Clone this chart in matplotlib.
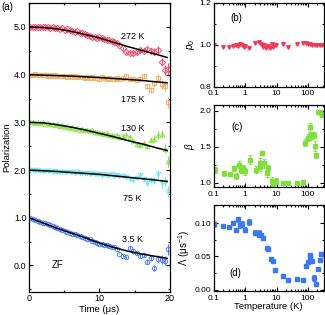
import matplotlib
matplotlib.use("Agg")
import matplotlib.pyplot as plt
from matplotlib.ticker import FixedLocator, MultipleLocator, LogLocator, NullFormatter, FuncFormatter

plt.rcParams['font.family'] = ['Liberation Sans', 'DejaVu Sans']
plt.rcParams['font.size'] = 6.5
plt.rcParams['mathtext.fontset'] = 'custom'
plt.rcParams['mathtext.it'] = 'Liberation Sans:italic'
plt.rcParams['mathtext.rm'] = 'Liberation Sans'

# ---- panel (a): polarization vs time (curves offset by 1) ----
t_a = [0.2, 0.55, 0.9, 1.25, 1.6, 1.95, 2.3, 2.65, 3.0, 3.35, 3.7, 4.05, 4.4, 4.75,
       5.1, 5.45, 5.8, 6.15, 6.5, 6.85, 7.2, 7.55, 7.9, 8.25, 8.6, 8.95, 9.3, 9.65,
       10.0, 10.35, 10.7, 11.05, 11.4, 11.75, 12.1, 12.45, 12.8,
       13.3, 13.8, 14.3, 14.8, 15.3, 15.8, 16.3, 16.8, 17.3, 17.8, 18.3, 18.8, 19.3, 19.7]
err_a = [0.012] * 15 + [0.015] * 10 + [0.02] * 12 + \
        [0.03, 0.03, 0.035, 0.04, 0.04, 0.045, 0.05, 0.055, 0.06, 0.07, 0.08, 0.09, 0.1, 0.12]

p_272 = [5.00, 5.01, 4.99, 5.00, 5.01, 4.99, 5.00, 4.99, 4.98, 5.00, 4.97, 4.97, 4.96, 4.97,
         4.94, 4.95, 4.93, 4.92, 4.90, 4.91, 4.88, 4.87, 4.85, 4.83, 4.82, 4.80, 4.79, 4.77,
         4.78, 4.76, 4.75, 4.73, 4.72, 4.71, 4.68, 4.66, 4.62,
         4.55, 4.47, 4.46, 4.45, 4.47, 4.52, 4.50, 4.53, 4.50, 4.48, 4.52, 4.27, 4.10, 4.12]
p_175 = [4.00, 4.00, 4.01, 3.99, 4.00, 3.99, 4.00, 3.98, 3.99, 3.98, 3.99, 3.97, 3.98, 3.97,
         3.98, 3.96, 3.97, 3.96, 3.97, 3.95, 3.96, 3.95, 3.94, 3.96, 3.94, 3.95, 3.93, 3.94,
         3.92, 3.95, 3.93, 3.91, 3.93, 3.92, 3.90, 3.93, 3.91,
         3.93, 3.98, 3.90, 3.91, 3.89, 3.92, 3.98, 3.76, 3.68, 3.82, 3.94, 3.80, 3.76, 3.42]
p_130 = [3.00, 3.01, 2.99, 3.00, 2.98, 3.00, 2.97, 2.98, 2.96, 2.97, 2.94, 2.96, 2.93, 2.94,
         2.91, 2.93, 2.89, 2.91, 2.87, 2.88, 2.85, 2.87, 2.83, 2.85, 2.81, 2.83, 2.79, 2.80,
         2.77, 2.78, 2.75, 2.77, 2.73, 2.74, 2.72, 2.73, 2.70,
         2.71, 2.74, 2.70, 2.60, 2.55, 2.52, 2.57, 2.50, 2.64, 2.66, 2.73, 2.76, 2.45, 2.18]
p_75 = [2.00, 2.00, 1.99, 2.00, 1.99, 1.98, 1.99, 1.98, 1.98, 1.97, 1.98, 1.97, 1.96, 1.97,
        1.96, 1.95, 1.96, 1.95, 1.94, 1.95, 1.94, 1.93, 1.94, 1.93, 1.92, 1.93, 1.92, 1.91,
        1.92, 1.90, 1.91, 1.90, 1.89, 1.92, 1.88, 1.89, 1.87,
        1.88, 1.86, 1.82, 1.79, 1.84, 1.90, 1.82, 1.73, 1.80, 1.78, 1.92, 1.72, 1.76, 1.55]
p_3p5 = [0.99, 0.98, 0.95, 0.94, 0.91, 0.90, 0.88, 0.86, 0.84, 0.82, 0.80, 0.78, 0.76, 0.75,
         0.72, 0.71, 0.69, 0.67, 0.65, 0.63, 0.61, 0.60, 0.58, 0.56, 0.55, 0.52, 0.50, 0.47,
         0.46, 0.44, 0.42, 0.42, 0.40, 0.38, 0.39, 0.34, 0.25,
         0.20, 0.17, 0.37, 0.31, 0.26, 0.20, 0.22, 0.08, 0.16, -0.05, 0.14, 0.12, 0.10, 0.34]

fit_t = [0, 2, 4, 6, 8, 10, 12, 14, 16, 18, 19.6]
fit_272 = [5.00, 4.99, 4.96, 4.91, 4.84, 4.77, 4.68, 4.59, 4.51, 4.43, 4.36]
fit_175 = [4.00, 3.99, 3.98, 3.97, 3.955, 3.94, 3.92, 3.90, 3.88, 3.85, 3.83]
fit_130 = [3.00, 2.99, 2.95, 2.90, 2.84, 2.77, 2.70, 2.62, 2.55, 2.47, 2.41]
fit_75 = [2.00, 1.985, 1.97, 1.95, 1.93, 1.91, 1.88, 1.85, 1.82, 1.79, 1.76]
fit_3p5 = [1.00, 0.89, 0.78, 0.68, 0.58, 0.47, 0.38, 0.30, 0.24, 0.19, 0.15]

# ---- panels (b)-(d): fit parameters vs temperature ----
T_b = [0.1, 0.2, 0.3, 0.4, 0.5, 0.6, 0.7, 0.8, 0.9, 1.0, 1.3, 2.1, 2.8, 3.1, 3.6, 4.1, 4.7,
       5.3, 6.0, 7.0, 8.0, 9.5, 16, 23, 45, 70, 85, 100, 120, 140, 166, 195, 240, 290]
p0 = [1.0, 0.992, 0.992, 0.995, 1.0, 0.995, 1.005, 1.0, 0.992, 0.995, 0.987, 1.008, 1.016,
      1.005, 0.992, 1.0, 0.984, 0.995, 0.984, 1.005, 0.992, 1.0, 1.003, 0.992, 1.003, 1.008,
      1.008, 1.003, 1.003, 1.0, 1.0, 1.0, 1.0, 1.0]

T_c = [0.105, 0.21, 0.32, 0.43, 0.52, 0.63, 0.75, 0.85, 1.0, 1.45, 2.2, 2.9, 3.0, 3.4, 3.9,
       4.9, 5.3, 7.0, 8.0, 9.3, 16, 23, 45, 70, 83, 100, 114, 114, 132, 154, 166, 187, 210, 250, 290]
beta = [1.18, 1.13, 1.12, 1.20, 1.09, 1.25, 1.18, 1.21, 1.16, 1.32, 1.18, 1.22, 1.28, 1.41,
        1.27, 1.13, 1.20, 1.02, 0.99, 1.03, 1.00, 1.00, 1.00, 1.01, 1.56, 1.63, 1.77, 1.65,
        1.66, 1.67, 1.51, 1.38, 1.99, 1.99, 1.95]
beta_err = [0.04, 0.03, 0.03, 0.04, 0.04, 0.05, 0.04, 0.04, 0.05, 0.06, 0.05, 0.06, 0.06, 0.03,
            0.06, 0.05, 0.05, 0.06, 0.04, 0.04, 0.02, 0.02, 0.02, 0.03, 0.05, 0.05, 0.06, 0.05,
            0.05, 0.04, 0.07, 0.03, 0.02, 0.02, 0.03]

T_d = [0.1, 0.2, 0.3, 0.4, 0.5, 0.6, 0.7, 0.8, 1.0, 1.3, 2.1, 2.8, 2.8, 3.2, 3.6, 4.8, 5.2,
       6.7, 7.6, 9.2, 16, 23, 45, 70, 85, 100, 114, 120, 132, 156, 187, 210, 240, 270, 300]
lam = [0.098, 0.0955, 0.094, 0.1005, 0.090, 0.1055, 0.0965, 0.099, 0.090, 0.1015, 0.0855,
       0.0855, 0.0825, 0.0815, 0.0775, 0.063, 0.0615, 0.0465, 0.0425, 0.030, 0.020, 0.015,
       0.0165, 0.014, 0.035, 0.0415, 0.049, 0.0515, 0.0425, 0.0175, 0.009, 0.0315, 0.045,
       0.054, 0.054]
lam_err = [0.004, 0.003, 0.003, 0.003, 0.003, 0.004, 0.004, 0.004, 0.004, 0.004, 0.004,
           0.004, 0.003, 0.003, 0.003, 0.003, 0.003, 0.003, 0.003, 0.002, 0.001, 0.001,
           0.001, 0.001, 0.002, 0.002, 0.002, 0.002, 0.002, 0.004, 0.002, 0.002, 0.002,
           0.003, 0.003]

fig = plt.figure(figsize=(3.25, 3.15), dpi=100)


def style(ax, size=6.5):
    ax.tick_params(which='both', direction='in', top=True, right=True, width=0.8, pad=1.8,
                   labelsize=size)
    ax.tick_params(which='major', length=3)
    ax.tick_params(which='minor', length=1.6)
    for s in ax.spines.values():
        s.set_linewidth(0.9)


ax = fig.add_axes([0.089, 0.074, 0.434, 0.916])
curves = [
    (p_272, fit_272, '#f2506e', 'D', '272 K', 4.80),
    (p_175, fit_175, '#f5b064', 's', '175 K', 3.47),
    (p_130, fit_130, '#8ee04c', '^', '130 K', 2.88),
    (p_75, fit_75, '#78e4f0', 'v', '75 K', 1.41),
    (p_3p5, fit_3p5, '#5080f0', 'o', '3.5 K', 0.55),
]
for pdat, fdat, col, mk, lab, ly in curves:
    ax.errorbar(t_a, pdat, yerr=err_a, fmt=mk, color=col, mfc='none', mec=col,
                ms=3.2, mew=0.7, elinewidth=0.8, capsize=0, zorder=2)
    ax.plot(fit_t, fdat, color='black', lw=1.1, zorder=3)
    ax.text(14.7, ly, lab, ha='center', va='center', fontsize=6.5)
ax.text(4.0, 0.0, 'ZF', ha='center', va='center', fontsize=7)
ax.set_xlim(0, 20)
ax.set_ylim(-0.55, 5.5)
ax.xaxis.set_major_locator(MultipleLocator(10))
ax.xaxis.set_minor_locator(MultipleLocator(5))
ax.yaxis.set_major_locator(MultipleLocator(1))
ax.yaxis.set_minor_locator(MultipleLocator(0.5))
ax.yaxis.set_major_formatter(FuncFormatter(lambda v, p: f'{v:.1f}'))
style(ax)
ax.set_xlabel('Time (μs)', fontsize=6.8, labelpad=1)
ax.set_ylabel('Polarization', fontsize=6.8, labelpad=2)
fig.text(0.005, 0.968, '(a)', fontsize=7)

logfmt = FuncFormatter(lambda v, p: {0.1: '0.1', 1: '1', 10: '10', 100: '100'}.get(round(v, 1), ''))

axb = fig.add_axes([0.658, 0.724, 0.338, 0.267])
axb.plot(T_b, p0, 'v', color='#f03a5a', ms=2.6)
axb.set_ylim(0.8, 1.2)
axb.yaxis.set_major_locator(FixedLocator([0.8, 1.0, 1.2]))
axb.yaxis.set_minor_locator(FixedLocator([0.9, 1.1]))
axb.yaxis.set_major_formatter(FuncFormatter(lambda v, p: f'{v:.1f}'))
axb.set_ylabel('$p_0$', fontsize=7, labelpad=2)
axb.text(0.15, 0.78, '(b)', transform=axb.transAxes, fontsize=7)

axc = fig.add_axes([0.658, 0.406, 0.338, 0.26])
axc.errorbar(T_c, beta, yerr=beta_err, fmt='s', color='#7fe03c', ms=2.6,
             elinewidth=0.8, capsize=1.2, capthick=0.6)
axc.set_ylim(0.94, 2.08)
axc.yaxis.set_major_locator(FixedLocator([1.0, 1.5, 2.0]))
axc.yaxis.set_minor_locator(FixedLocator([1.25, 1.75]))
axc.yaxis.set_major_formatter(FuncFormatter(lambda v, p: f'{v:.1f}'))
axc.set_ylabel('$\\beta$', fontsize=7, labelpad=2)
axc.text(0.16, 0.7, '(c)', transform=axc.transAxes, fontsize=7)

axd = fig.add_axes([0.658, 0.076, 0.338, 0.273])
axd.errorbar(T_d, lam, yerr=lam_err, fmt='s', color='#3c78f0', ms=2.6,
             elinewidth=0.8, capsize=1.2, capthick=0.6)
axd.set_ylim(-0.002, 0.127)
axd.yaxis.set_major_locator(FixedLocator([0.0, 0.05, 0.10]))
axd.yaxis.set_minor_locator(FixedLocator([0.025, 0.075]))
axd.yaxis.set_major_formatter(FuncFormatter(lambda v, p: f'{v:.2f}'))
axd.set_ylabel('$\\Lambda$ (μs$^{-1}$)', fontsize=7, labelpad=2)
axd.text(0.145, 0.17, '(d)', transform=axd.transAxes, fontsize=7)

for a in (axb, axc, axd):
    a.set_xscale('log')
    a.set_xlim(0.1, 320)
    a.xaxis.set_major_locator(FixedLocator([0.1, 1, 10, 100]))
    a.xaxis.set_minor_locator(LogLocator(base=10, subs=range(2, 10)))
    a.xaxis.set_minor_formatter(NullFormatter())
    a.xaxis.set_major_formatter(logfmt)
    style(a, 6)
    a.tick_params(axis='x', pad=2.5)
axd.set_xlabel('Temperature (K)', fontsize=6.8, labelpad=0.5)

fig.savefig('out.png', dpi=100)
